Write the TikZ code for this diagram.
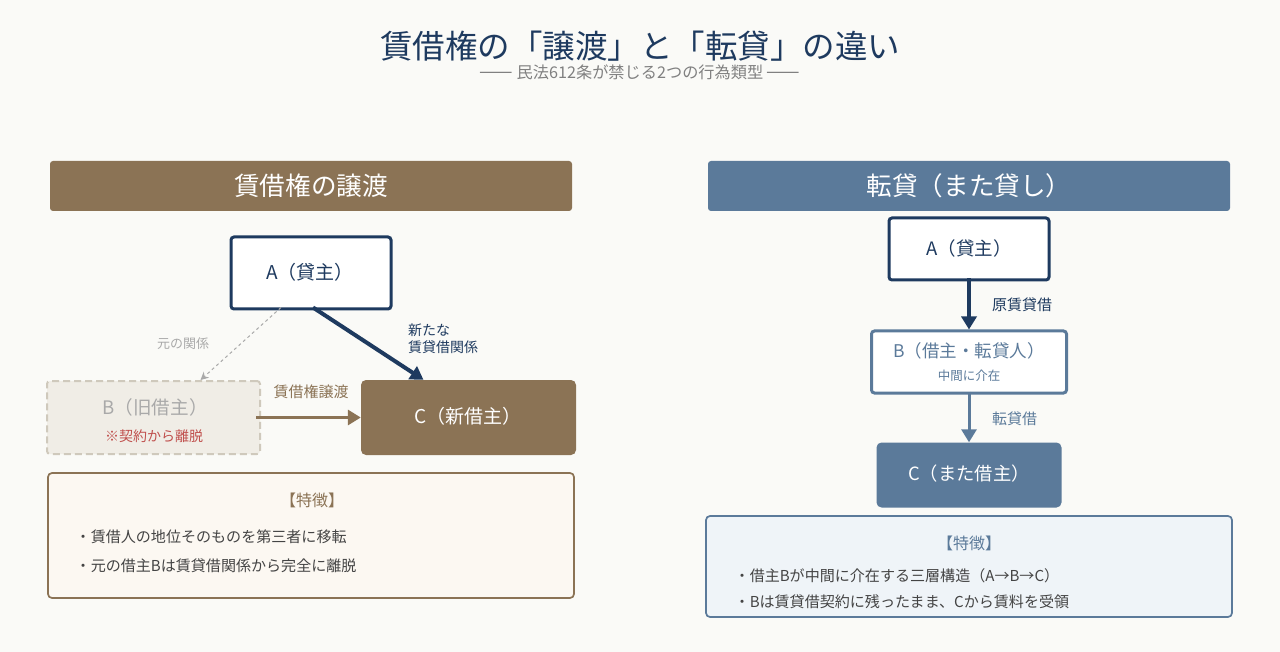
\documentclass[tikz,border=0pt]{standalone}
\usepackage{fontspec}
\setmainfont{Noto Sans CJK JP}
\usetikzlibrary{arrows.meta}
\definecolor{page_bg}{HTML}{FAFAF7}
\definecolor{brown_main}{HTML}{8B7355}
\definecolor{blue_main}{HTML}{5B7A9A}
\definecolor{navy_main}{HTML}{1E3A5F}
\definecolor{grey_text}{HTML}{A9A9A9}
\definecolor{old_fill}{HTML}{F0EDE6}
\definecolor{old_line}{HTML}{CFC9BC}
\definecolor{red_text}{HTML}{C0504D}
\definecolor{note_brown}{HTML}{FCF8F2}
\definecolor{note_blue}{HTML}{EFF4F8}
\definecolor{body_text}{HTML}{444444}
\newcommand{\fsize}[1]{\fontsize{#1}{#1}\selectfont}
\begin{document}
\begin{tikzpicture}[x=1pt, y=-1pt]
    \tikzstyle{box_style} = [rectangle, rounded corners=3pt, inner sep=0pt]
    \tikzstyle{header_left} = [box_style, fill=brown_main, text=white, minimum width=522pt, minimum height=50pt, font=\fsize{25.6}]
    \tikzstyle{header_right} = [box_style, fill=blue_main, text=white, minimum width=522pt, minimum height=50pt, font=\fsize{25.6}]
    \tikzstyle{party_navy} = [box_style, draw=navy_main, fill=white, line width=3pt]
    \tikzstyle{party_blue} = [box_style, draw=blue_main, fill=white, line width=3pt]
    \tikzstyle{party_old} = [box_style, draw=old_line, fill=old_fill, line width=2pt, dash pattern=on 7pt off 4pt]
    \tikzstyle{party_brown} = [box_style, rounded corners=5pt, fill=brown_main]
    \tikzstyle{party_steel} = [box_style, rounded corners=5pt, fill=blue_main]
    \tikzstyle{note_left} = [box_style, rounded corners=4pt, draw=brown_main, fill=note_brown, line width=1.7pt, minimum width=526pt, minimum height=125pt]
    \tikzstyle{note_right} = [box_style, rounded corners=4pt, draw=blue_main, fill=note_blue, line width=1.7pt, minimum width=526pt, minimum height=101pt]
    \tikzstyle{edge_navy} = [draw=navy_main, line width=4pt, -{Triangle[length=13pt,width=15pt]}]
    \tikzstyle{edge_blue} = [draw=blue_main, line width=3pt, -{Triangle[length=13pt,width=15pt]}]
    \tikzstyle{edge_brown} = [draw=brown_main, line width=3.5pt, -{Triangle[length=13pt,width=15pt]}]
    \tikzstyle{edge_old} = [draw=grey_text, line width=1pt, dashed, -{Stealth[length=8pt,width=8pt]}]
    \tikzstyle{text_edge} = [inner sep=0pt, font=\fsize{15}, align=left]
    \tikzstyle{text_item} = [inner sep=0pt, anchor=west, text=body_text, font=\fsize{15.05}]

    \fill[page_bg] (0,0) rectangle (1280,652);
    \useasboundingbox (0,0) rectangle (1280,652);

    \node[inner sep=0pt, text=navy_main, font=\fsize{32.5}] (title) at (640,46) {賃借権の「譲渡」と「転貸」の違い};
    \node[inner sep=0pt, text=gray, font=\fsize{16.2}] (subtitle) at (640,72) {{\fsize{20}——} 民法612条が禁じる2つの行為類型 {\fsize{20}——}};

    % left side
    \node[header_left] (head_l) at (311,186) {賃借権の譲渡};
    \node[party_navy, minimum width=160pt, minimum height=72pt] (a_l) at (311,273) {};
    \node[party_old, minimum width=213pt, minimum height=73pt] (b_l) at (153.5,417.5) {};
    \node[party_brown, minimum width=215pt, minimum height=75pt] (c_l) at (468.5,417.5) {};
    \node[inner sep=0pt, text=navy_main, font=\fsize{19}] (a_l_text) at (310,272) {A（貸主）};
    \node[inner sep=0pt, text=grey_text, font=\fsize{18.6}] (b_l_text) at (155,407) {B（旧借主）};
    \node[inner sep=0pt, text=red_text, font=\fsize{14}] (b_l_note) at (154,436) {※契約から離脱};
    \node[inner sep=0pt, text=white, font=\fsize{19}] (c_l_text) at (468,416) {C（新借主）};

    \draw[edge_old] ([xshift=-30pt,yshift=3pt]a_l.south) -- ([xshift=47pt]b_l.north);
    \draw[edge_navy] ([xshift=2pt,yshift=3pt]a_l.south) -- ([xshift=-45pt]c_l.north);
    \draw[edge_brown] ([xshift=-5pt]b_l.east) -- (c_l.west);

    \node[text_edge, text=grey_text, font=\fsize{13}] (lbl_old) at (183,344) {元の関係};
    \node[inner sep=0pt, anchor=west, align=left, text=navy_main, font=\fontsize{14}{17}\selectfont] (lbl_new) at (408,339) {新たな\\賃貸借関係};
    \node[text_edge, text=brown_main] (lbl_trans) at (311,392) {賃借権譲渡};

    \node[note_left] (note_l) at (311,535.5) {};
    \node[inner sep=0pt, text=brown_main, font=\fsize{16}] (note_l_head) at (312,500) {【特徴】};
    \node[text_item] (item_l1) at (75.5,537) {・賃借人の地位そのものを第三者に移転};
    \node[text_item] (item_l2) at (75.5,566) {・元の借主Bは賃貸借関係から完全に離脱};

    % right side
    \node[header_right] (head_r) at (969,186) {転貸（また貸し）};
    \node[party_navy, minimum width=160pt, minimum height=62pt] (a_r) at (969,249) {};
    \node[party_blue, minimum width=195pt, minimum height=62pt] (b_r) at (969,362) {};
    \node[party_steel, minimum width=185pt, minimum height=65pt] (c_r) at (969,475) {};
    \node[inner sep=0pt, text=navy_main, font=\fsize{18.5}] (a_r_text) at (969,248) {A（貸主）};
    \node[inner sep=0pt, text=blue_main, font=\fsize{17.5}] (b_r_text) at (969,351) {B（借主・転貸人）};
    \node[inner sep=0pt, text=blue_main, font=\fsize{12.5}] (b_r_note) at (969,376) {中間に介在};
    \node[inner sep=0pt, text=white, font=\fsize{18.3}] (c_r_text) at (969,474) {C（また借主）};

    \draw[edge_navy] ([yshift=3pt]a_r.south) -- (b_r.north);
    \draw[edge_blue] ([yshift=3pt]b_r.south) -- (c_r.north);

    \node[text_edge, text=navy_main, anchor=west] (lbl_orig) at (992,305) {原賃貸借};
    \node[text_edge, text=blue_main, anchor=west] (lbl_sub) at (992,419) {転貸借};

    \node[note_right] (note_r) at (969,566.5) {};
    \node[inner sep=0pt, text=blue_main, font=\fsize{16}] (note_r_head) at (969,543) {【特徴】};
    \node[text_item] (item_r1) at (734.5,576) {・借主Bが中間に介在する三層構造（A→B→C）};
    \node[text_item] (item_r2) at (734.5,602) {・Bは賃貸借契約に残ったまま、Cから賃料を受領};
\end{tikzpicture}
\end{document}
